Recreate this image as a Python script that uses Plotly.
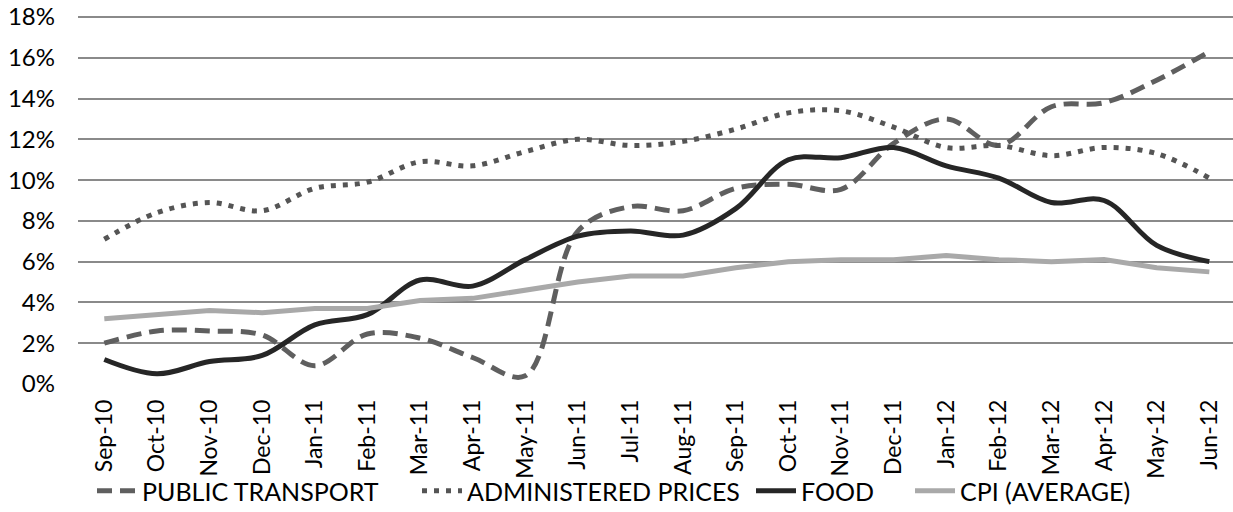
import plotly.graph_objects as go

months = ["Sep-10", "Oct-10", "Nov-10", "Dec-10", "Jan-11", "Feb-11", "Mar-11", "Apr-11",
          "May-11", "Jun-11", "Jul-11", "Aug-11", "Sep-11", "Oct-11", "Nov-11", "Dec-11",
          "Jan-12", "Feb-12", "Mar-12", "Apr-12", "May-12", "Jun-12"]

public_transport = [2.0, 2.6, 2.6, 2.4, 0.9, 2.45, 2.25, 1.3, 0.4, 7.5, 8.7, 8.5,
                    9.6, 9.8, 9.55, 11.8, 13.0, 11.7, 13.6, 13.8, 14.9, 16.3]
administered = [7.1, 8.4, 8.9, 8.5, 9.6, 9.9, 10.9, 10.7, 11.4, 12.0, 11.7, 11.9,
                12.5, 13.3, 13.4, 12.6, 11.6, 11.7, 11.2, 11.6, 11.3, 10.1]
food = [1.2, 0.5, 1.1, 1.4, 2.9, 3.4, 5.1, 4.8, 6.1, 7.25, 7.5, 7.3,
        8.6, 11.0, 11.1, 11.6, 10.7, 10.1, 8.9, 9.0, 6.8, 6.0]
cpi = [3.2, 3.4, 3.6, 3.5, 3.7, 3.7, 4.1, 4.2, 4.6, 5.0, 5.3, 5.3,
       5.7, 6.0, 6.1, 6.1, 6.3, 6.1, 6.0, 6.1, 5.7, 5.5]

y_ticks = [0, 2, 4, 6, 8, 10, 12, 14, 16, 18]
y_tick_labels = [f"{v}%" for v in y_ticks]

FONT = "Lato"
W, H = 1233, 512

fig = go.Figure()
fig.add_trace(go.Scatter(x=months, y=public_transport, name="PUBLIC TRANSPORT", mode="lines",
                         legend="legend",
                         line=dict(color="#5f5f5f", width=5, dash="15px,8px", shape="spline", smoothing=1)))
fig.add_trace(go.Scatter(x=months, y=administered, name="ADMINISTERED PRICES", mode="lines",
                         legend="legend2",
                         line=dict(color="#555555", width=5, dash="5px,7px", shape="spline", smoothing=1)))
fig.add_trace(go.Scatter(x=months, y=food, name="FOOD", mode="lines",
                         legend="legend3",
                         line=dict(color="#262626", width=5, shape="spline", smoothing=1)))
fig.add_trace(go.Scatter(x=months, y=cpi, name="CPI (AVERAGE)", mode="lines",
                         legend="legend4",
                         line=dict(color="#a9a9a9", width=5)))


def leg(px_left):
    return dict(orientation="h", xref="container", yref="container",
                x=px_left / W, xanchor="left", y=1 - 491 / H, yanchor="middle",
                bgcolor="rgba(0,0,0,0)", borderwidth=0,
                font=dict(family=FONT, size=25, color="black"), itemwidth=40)


fig.update_layout(
    width=W, height=H,
    margin=dict(l=78, r=0, t=16, b=128, autoexpand=False),
    paper_bgcolor="white", plot_bgcolor="white",
    font=dict(family=FONT, size=24, color="black"),
    showlegend=True,
    legend=leg(92),
    legend2=leg(417),
    legend3=leg(751),
    legend4=leg(910),
    xaxis=dict(type="category", categoryorder="array", categoryarray=months,
               range=[-0.5, 21.45], tickangle=-90, showgrid=False, showline=False,
               zeroline=False, ticks="", ticklabelstandoff=10, automargin=False,
               tickfont=dict(family=FONT, size=23, color="black")),
    yaxis=dict(range=[0, 18.05], tickmode="array", tickvals=y_ticks, ticktext=y_tick_labels,
               showgrid=True, gridcolor="#8a8a8a", gridwidth=1.5, zeroline=False,
               showline=False, ticks="", ticklabelstandoff=22, automargin=False,
               ticklabeloverflow="allow",
               tickfont=dict(family=FONT, size=24, color="black")),
)

fig.write_html("out.html", config={"displayModeBar": False},
               post_script="document.body.style.margin='0';")
